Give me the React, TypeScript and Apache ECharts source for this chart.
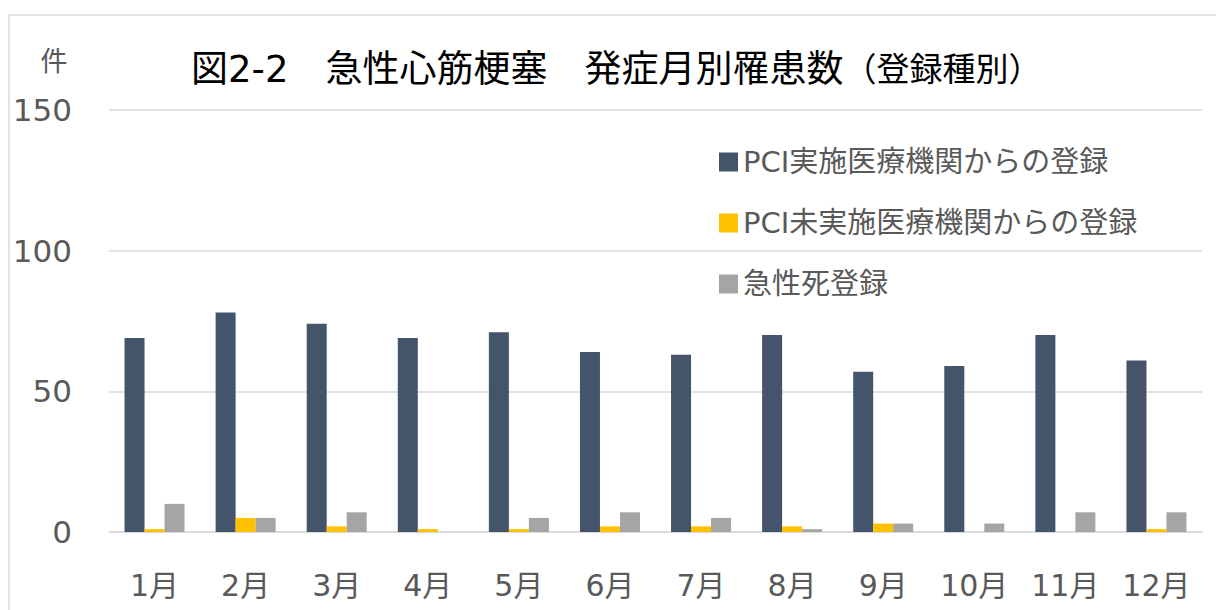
import React, { useEffect, useRef } from "react";
import * as echarts from "echarts";

const categories = ["1月", "2月", "3月", "4月", "5月", "6月", "7月", "8月", "9月", "10月", "11月", "12月"];
const seriesNames = ["PCI実施医療機関からの登録", "PCI未実施医療機関からの登録", "急性死登録"];
const pciValues = [69, 78, 74, 69, 71, 64, 63, 70, 57, 59, 70, 61];
const nonPciValues = [1, 5, 2, 1, 1, 2, 2, 2, 3, 0, 0, 1];
const suddenDeathValues = [10, 5, 7, 0, 5, 7, 5, 1, 3, 3, 7, 7];
const yTicks = [0, 50, 100, 150];
const colors = ["#44546a", "#ffc000", "#a5a5a5"];

const FONT = "'DejaVu Sans', 'Noto Sans CJK JP', sans-serif";

export default function App() {
  const ref = useRef<HTMLDivElement>(null);
  useEffect(() => {
    if (!ref.current) return;
    const chart = echarts.init(ref.current, undefined, { renderer: "svg" });
    const data = [pciValues, nonPciValues, suddenDeathValues];
    chart.setOption({
      animation: false,
      backgroundColor: "#ffffff",
      title: {
        text: "{main|図2-2　急性心筋梗塞　発症月別罹患数}{sub|（登録種別）}",
        left: 191,
        top: 49,
        padding: 0,
        textStyle: {
          fontWeight: "normal",
          rich: {
            main: { fontSize: 37, fontFamily: FONT, fontWeight: "normal", color: "#000000", lineHeight: 40 },
            sub: { fontSize: 33, fontFamily: FONT, fontWeight: "normal", color: "#000000", lineHeight: 40 },
          },
        },
      },
      legend: {
        orient: "vertical",
        left: 714,
        top: 142,
        itemWidth: 19,
        itemHeight: 19,
        itemGap: 31,
        icon: "rect",
        data: seriesNames,
        textStyle: {
          fontSize: 29,
          lineHeight: 30,
          fontFamily: FONT,
          color: "#595959",
        },
      },
      graphic: [
        {
          type: "rect",
          shape: { x: 9, y: 15, width: 1300, height: 700 },
          style: { fill: "none", stroke: "#d9d9d9", lineWidth: 1.5 },
          silent: true,
          z: -1,
        },
        {
          type: "text",
          x: 54,
          y: 61,
          style: {
            text: "件",
            fontSize: 27,
            fontFamily: FONT,
            fill: "#595959",
            align: "center",
            verticalAlign: "middle",
          },
        },
      ],
      grid: { left: 109, right: 14, top: 110, bottom: 78, containLabel: false },
      xAxis: {
        type: "category",
        data: categories,
        axisTick: { show: false },
        axisLine: { show: true, lineStyle: { color: "#d9d9d9", width: 1.5 } },
        axisLabel: { fontSize: 30, fontFamily: FONT, color: "#595959", margin: 38, interval: 0 },
      },
      yAxis: {
        type: "value",
        min: yTicks[0],
        max: yTicks[yTicks.length - 1],
        interval: 50,
        axisLine: { show: false },
        axisTick: { show: false },
        splitLine: { lineStyle: { color: "#d9d9d9", width: 1.5 } },
        axisLabel: { fontSize: 31, fontFamily: FONT, color: "#595959", margin: 37 },
      },
      series: seriesNames.map((name, i) => ({
        name,
        type: "bar",
        data: data[i],
        barWidth: 20,
        barGap: "0%",
        barCategoryGap: "34%",
        itemStyle: { color: colors[i] },
      })),
    });
    return () => chart.dispose();
  }, []);
  return (
    <div
      ref={ref}
      style={{ position: "absolute", left: 0, top: 0, width: 1216, height: 610 }}
    />
  );
}
